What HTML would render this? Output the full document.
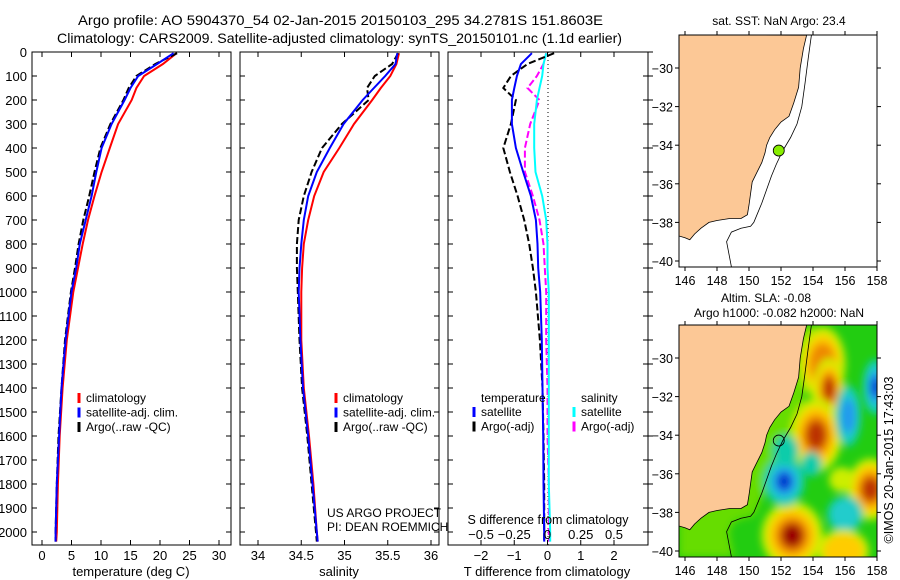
<!DOCTYPE html>
<html><head><meta charset="utf-8">
<style>
body{margin:0;background:#fff;}
svg{display:block;font-family:"Liberation Sans",sans-serif;}
</style></head>
<body>
<svg id="fig" width="900" height="580" viewBox="0 0 900 580" xmlns="http://www.w3.org/2000/svg">
<defs>
<clipPath id="c1"><rect x="32" y="52" width="199" height="493"/></clipPath>
<clipPath id="c2"><rect x="240" y="52" width="199" height="493"/></clipPath>
<clipPath id="c3"><rect x="448" y="52" width="200" height="493"/></clipPath>
<clipPath id="cm1"><rect x="679" y="35" width="198" height="232"/></clipPath>
<clipPath id="cm2"><rect x="679" y="325" width="198" height="232"/></clipPath>
<filter id="blur" x="-50%" y="-50%" width="200%" height="200%"><feGaussianBlur stdDeviation="4"/></filter>
</defs>
<text x="78" y="25" font-size="14" textLength="525" lengthAdjust="spacingAndGlyphs">Argo profile: AO 5904370_54 02-Jan-2015 20150103_295 34.2781S 151.8603E</text>
<text x="57" y="43" font-size="14" textLength="565" lengthAdjust="spacingAndGlyphs">Climatology: CARS2009. Satellite-adjusted climatology: synTS_20150101.nc (1.1d earlier)</text>
<g id="g"></g>
</svg>
<script>
const depths=[5,50,100,150,200,300,400,500,600,700,800,900,1000,1200,1400,1600,1800,2000,2040];
const climT=[22.8,20.5,17.3,16.0,15.2,12.9,11.5,10.1,8.9,7.8,6.9,6.1,5.3,4.2,3.5,3.0,2.7,2.5,2.4];
const satT=[22.3,19.5,16.3,15.0,14.0,11.8,10.1,9.2,8.4,7.4,6.4,5.8,5.0,4.0,3.3,2.9,2.5,2.3,2.3];
const argoT=[22.9,19.2,16.0,14.7,13.8,11.6,9.9,8.9,8.0,7.0,6.2,5.6,4.9,3.9,3.3,2.8,2.5,2.3,2.3];
const climS=[35.63,35.60,35.53,35.42,35.32,35.11,34.94,34.76,34.65,34.58,34.53,34.51,34.50,34.50,34.53,34.59,34.64,34.68,34.69];
const satS=[35.61,35.59,35.47,35.34,35.21,34.99,34.83,34.68,34.58,34.53,34.50,34.48,34.47,34.49,34.52,34.58,34.63,34.68,34.69];
const argoS=[35.62,35.55,35.35,35.26,35.28,34.97,34.74,34.62,34.53,34.47,34.45,34.45,34.46,34.48,34.51,34.57,34.62,34.67,34.68];
const dTsat=[-0.47,-0.8,-0.92,-1.0,-1.07,-1.07,-0.95,-0.73,-0.5,-0.35,-0.3,-0.28,-0.22,-0.17,-0.15,-0.13,-0.12,-0.1,-0.1];
const dTargo=[0.2,-0.6,-1.1,-1.33,-0.95,-1.1,-1.33,-1.13,-0.9,-0.7,-0.55,-0.44,-0.35,-0.23,-0.15,-0.12,-0.1,-0.1,-0.1];
const dSsat=[-0.01,-0.03,-0.04,-0.06,-0.08,-0.1,-0.1,-0.09,-0.04,-0.01,0,0,0.01,0.01,0.01,0.01,0.01,0.02,0.02];
const dSargo=[-0.01,-0.03,-0.08,-0.15,-0.06,-0.13,-0.17,-0.17,-0.11,-0.06,-0.03,-0.02,-0.01,-0.01,0,0,0.01,0.01,0.01];
const depthTicks=[0,100,200,300,400,500,600,700,800,900,1000,1100,1200,1300,1400,1500,1600,1700,1800,1900,2000];
const tempTicks=[0,5,10,15,20,25,30];
const salTicks=["34","34.5","35","35.5","36"];
const tdiffTicks=["-2","-1","0","1","2"];
const sdiffTicks=["-0.5","-0.25","0","0.25","0.5"];
const lonTicks=[146,148,150,152,154,156,158];
const latTicks=[-30,-32,-34,-36,-38,-40];
const coastLon=[153.6,153.4,153.2,153.1,152.8,152.5,152.0,151.6,151.3,151.1,151.0,150.8,150.5,150.2,150.1,150.0,149.9,149.5,148.8,148.0,147.5,147.0,146.6,146.3,146.0,145.6];
const coastLat=[-28.3,-29.0,-30.0,-31.0,-31.8,-32.5,-32.8,-33.2,-33.6,-34.0,-34.4,-34.9,-35.4,-35.9,-36.5,-37.1,-37.6,-37.8,-37.8,-37.9,-38.0,-38.3,-38.6,-38.9,-38.8,-38.7];
const isoLon=[153.9,153.7,153.5,153.3,153.0,152.6,152.1,151.7,151.4,151.1,150.8,150.5,150.3,150.1,149.5,148.9,148.6,148.9];
const isoLat=[-28.3,-29.5,-30.8,-32.0,-32.9,-33.6,-34.3,-35.0,-35.6,-36.3,-37.0,-37.6,-38.0,-38.2,-38.3,-38.5,-39.0,-40.3];
const argoLon=151.8603, argoLat=-34.2781;
const slaLon=[154.6,155.0,154.2,152.7,152.2,156.2,157.9,157.6,156.0,155.9,155.8,152.3,153.9];
const slaLat=[-30.3,-31.6,-34.0,-39.2,-36.4,-33.0,-31.5,-36.8,-38.1,-40.0,-36.3,-34.8,-35.5];
const slaVal=[0.3,0.45,0.45,0.6,-0.45,-0.35,-0.4,0.4,-0.25,0.25,0.1,-0.12,-0.12];
const slaRx=[0.9,0.6,1.0,1.2,0.8,0.5,0.5,0.9,0.7,1.0,0.5,0.5,0.4];
const slaRy=[1.2,1.0,1.2,1.1,0.8,1.0,0.9,1.0,0.6,0.7,0.4,0.5,0.4];

const NS="http://www.w3.org/2000/svg";
const G=document.getElementById('g');
function el(tag,attrs,parent,txt){const e=document.createElementNS(NS,tag);for(const k in attrs)e.setAttribute(k,attrs[k]);if(txt!==undefined)e.textContent=txt;(parent||G).appendChild(e);return e;}
const yD=d=>52+d*0.24;
function xLin(v0,p0,v1,p1){return v=>p0+(v-v0)*(p1-p0)/(v1-v0);}
const xT=xLin(0,42,30,219), xS=xLin(34,258,36,431), xTd=xLin(-2,481,2,614), xSd=xLin(-0.5,481,0.5,614);
const xLon=xLin(146,685,158,877), yLat=xLin(-30,68,-40,261);

function frame(x0,x1,name){
  const r=el('rect',{x:x0,y:52,width:x1-x0,height:493,fill:'none',stroke:'#000','stroke-width':1});
  
  
  depthTicks.forEach(d=>{
    el('line',{x1:x0,x2:x0+5,y1:yD(d),y2:yD(d),stroke:'#000'});
    el('line',{x1:x1,x2:x1-5,y1:yD(d),y2:yD(d),stroke:'#000'});
  });
}
function xticks(vals,sc,y,name){
  vals.forEach(v=>{
    const x=sc(+v);
    el('line',{x1:x,x2:x,y1:545,y2:540,stroke:'#000'});
    el('line',{x1:x,x2:x,y1:52,y2:57,stroke:'#000'});
    const t=el('text',{x:x,y:y,'font-size':13,'text-anchor':'middle'},G,String(v).replace('-','\u2212'));
    
    
  });
}
function line(xs,sc,color,clip,name,dash){
  const pts=depths.map((d,i)=>sc(xs[i]).toFixed(1)+','+yD(d).toFixed(1)).join(' ');
  const a={points:pts,fill:'none',stroke:color,'stroke-width':2,'clip-path':'url(#'+clip+')'};
  if(dash)a['stroke-dasharray']=dash;
  const p=el('polyline',a);
  
  
}
depthTicks.forEach(d=>{
  const t=el('text',{x:27,y:yD(d)+5,'font-size':13,'text-anchor':'end'},G,String(d));
  
  
});
frame(32,231,'temperature-panel');
xticks(tempTicks,xT,560,'temperature-tick-label');
line(climT,xT,'#f00','c1','climatology-temperature-line');
line(argoT,xT,'#000','c1','argo-temperature-line','7,3');
line(satT,xT,'#00f','c1','satellite-temperature-line');
el('text',{x:131,y:576,'font-size':13,'text-anchor':'middle',},G,'temperature (deg C)');
frame(240,439,'salinity-panel');
xticks(salTicks,xS,560,'salinity-tick-label');
line(climS,xS,'#f00','c2','climatology-salinity-line');
line(argoS,xS,'#000','c2','argo-salinity-line','7,3');
line(satS,xS,'#00f','c2','satellite-salinity-line');
el('text',{x:339,y:576,'font-size':13,'text-anchor':'middle',},G,'salinity');
el('text',{x:327,y:517,'font-size':12,},G,'US ARGO PROJECT');
el('text',{x:327,y:531,'font-size':12,},G,'PI: DEAN ROEMMICH');
function legend(x,y,items,name){
  items.forEach((it,i)=>{
    const yy=y+i*14.5;
    el('line',{x1:x,x2:x,y1:yy-9,y2:yy+1,stroke:it[0],'stroke-width':3});
    const t=el('text',{x:x+7,y:yy,'font-size':12},G,it[1]);
    
    
  });
}
legend(79,402,[['#f00','climatology'],['#00f','satellite-adj. clim.'],['#000','Argo(..raw -QC)']],'temperature-legend-entry');
legend(336,402,[['#f00','climatology'],['#00f','satellite-adj. clim.'],['#000','Argo(..raw -QC)']],'salinity-legend-entry');
frame(448,648,'difference-panel');
el('line',{x1:548,x2:548,y1:52,y2:545,stroke:'#000','stroke-dasharray':'1,3',});
line(dSargo,xSd,'#f0f','c3','argo-salinity-diff-line','7,3');
line(dSsat,xSd,'#0ff','c3','satellite-salinity-diff-line');
line(dTargo,xTd,'#000','c3','argo-temperature-diff-line','7,3');
line(dTsat,xTd,'#00f','c3','satellite-temperature-diff-line');
tdiffTicks.forEach(v=>{const x=xTd(+v);el('line',{x1:x,x2:x,y1:545,y2:540,stroke:'#000'});el('line',{x1:x,x2:x,y1:52,y2:57,stroke:'#000'});
  const t=el('text',{x:x,y:560,'font-size':13,'text-anchor':'middle'},G,v.replace('-','\u2212'));});
sdiffTicks.forEach(v=>{const x=xSd(+v);
  const t=el('text',{x:x,y:539,'font-size':13,'text-anchor':'middle'},G,v.replace('-','\u2212'));});
el('text',{x:548,y:524,'font-size':12.5,'text-anchor':'middle',},G,'S difference from climatology');
el('text',{x:547,y:576,'font-size':13,'text-anchor':'middle',},G,'T difference from climatology');
el('text',{x:481,y:402,'font-size':12,},G,'temperature');
el('text',{x:581,y:402,'font-size':12,},G,'salinity');
legend(474,416,[['#00f','satellite'],['#000','Argo(-adj)']],'t-diff-legend-entry');
legend(574,416,[['#0ff','satellite'],['#f0f','Argo(-adj)']],'s-diff-legend-entry');
depthTicks.forEach(d=>el('line',{x1:648,x2:653,y1:yD(d),y2:yD(d),stroke:'#000'}));

function landPts(off){
  const pts=coastLon.map((lo,i)=>xLon(lo).toFixed(1)+','+(yLat(coastLat[i])+off).toFixed(1));
  pts.push('679,'+(yLat(-38.7)+off).toFixed(1),'679,'+(35+off).toFixed(1));
  return pts;
}
function map(off,name,sla){
  const top=35+off;
  const g=el('g',{'clip-path':'url(#'+(off?'cm2':'cm1')+')'});
  
  
  el('rect',{x:679,y:top,width:198,height:232,fill:sla?'#22cc11':'#fff'},g);
  if(sla){
    const gb=el('g',{filter:'url(#blur)'},g);
    el('polygon',{points:isoLon.map((lo,i)=>xLon(lo+0.15)+','+(yLat(isoLat[i])+off)).join(' ')+' 679,557 679,'+top,fill:'#66dd00'},gb);
    slaLon.forEach((lo,i)=>{
      const v=slaVal[i], cx=xLon(lo), cy=yLat(slaLat[i])+off;
      const rx=slaRx[i]*16, ry=slaRy[i]*19.3;
      const layers=v>0?[['#ccee00',1.6,0],['#ffcc00',1.25,0.12],['#ee8800',0.9,0.28],['#bb3300',0.6,0.4],['#990000',0.45,0.55]]
                      :[['#11ccaa',1.6,0],['#22cccc',1.25,-0.15],['#2299ee',0.9,-0.3],['#0033cc',0.55,-0.4]];
      layers.forEach(L=>{
        if((v>0&&v>=L[2])||(v<0&&v<=L[2])){
          const e=el('ellipse',{cx:cx,cy:cy,rx:rx*L[1],ry:ry*L[1],fill:L[0]},gb);
          
          
        }
      });
    });
  }
  const land=el('polygon',{points:landPts(off).join(' '),fill:'#fcc896',stroke:'#000','stroke-width':0.8},g);
  
  
  el('polyline',{points:isoLon.map((lo,i)=>xLon(lo).toFixed(1)+','+(yLat(isoLat[i])+off).toFixed(1)).join(' '),fill:'none',stroke:'#000','stroke-width':0.8},g);
  el('rect',{x:679,y:top,width:198,height:232,fill:'none',stroke:'#000'});
  lonTicks.forEach(lo=>{const x=xLon(lo);el('line',{x1:x,x2:x,y1:top,y2:top-4,stroke:'#000'});el('line',{x1:x,x2:x,y1:top+232,y2:top+236,stroke:'#000'});
    const t=el('text',{x:x,y:top+250,'font-size':12.5,'text-anchor':'middle'},G,String(lo));});
  latTicks.forEach(la=>{const y=yLat(la)+off;el('line',{x1:679,x2:675,y1:y,y2:y,stroke:'#000'});el('line',{x1:877,x2:881,y1:y,y2:y,stroke:'#000'});
    const t=el('text',{x:673,y:y+5,'font-size':12.5,'text-anchor':'end'},G,String(la).replace('-','\u2212'));});
  const c=el('circle',{cx:xLon(argoLon),cy:yLat(argoLat)+off,r:5.5,fill:sla?'none':'#88ee00',stroke:'#000','stroke-width':0.8});
  
  
}
map(0,'sst-map',false);
map(290,'sla-map',true);
el('text',{x:779,y:25,'font-size':12,'text-anchor':'middle',},G,'sat. SST: NaN Argo: 23.4');
el('text',{x:766,y:302,'font-size':12,'text-anchor':'middle',},G,'Altim. SLA: -0.08');
el('text',{x:779,y:317,'font-size':12,'text-anchor':'middle',},G,'Argo h1000: -0.082 h2000: NaN');
el('text',{x:893,y:460,'font-size':12.5,'text-anchor':'middle',transform:'rotate(-90 893 460)',},G,'\u00a9IMOS 20-Jan-2015 17:43:03');
</script>
</body></html>
